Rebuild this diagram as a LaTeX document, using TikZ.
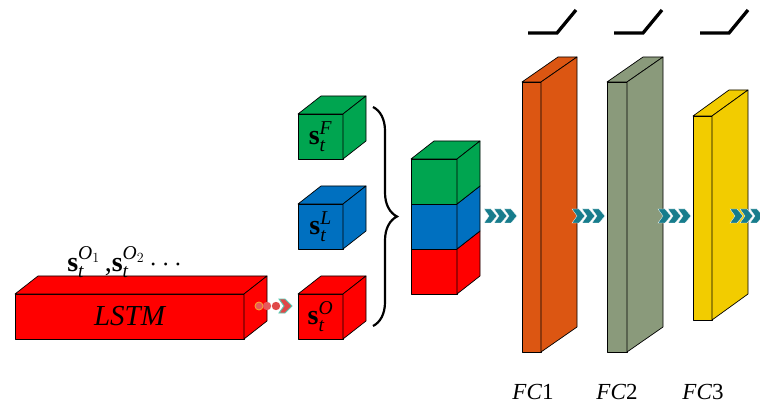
\RequirePackage{fix-cm}
\documentclass[tikz,border=0pt]{standalone}
\usepackage{amsmath}
\usepackage{fontspec}
\setmainfont{Liberation Serif}
\usetikzlibrary{decorations.pathreplacing,calc}

\definecolor{boxred}{HTML}{FF0000}
\definecolor{boxgreen}{HTML}{00A550}
\definecolor{boxblue}{HTML}{0070C0}
\definecolor{fcorange}{HTML}{DC5612}
\definecolor{fcgrey}{HTML}{8A9A7B}
\definecolor{fcyellow}{HTML}{F2CC00}
\definecolor{arrowteal}{HTML}{167C8C}
\definecolor{dotred}{HTML}{E8585A}
\definecolor{dotring}{HTML}{F5A030}
\definecolor{chevred}{HTML}{E04848}
\definecolor{chevring}{HTML}{5CC8B0}

\tikzset{
  face/.style={draw=black, line width=0.7pt, line join=round},
  frontface/.style={face, rectangle, inner sep=0pt, outer sep=0pt, anchor=north west},
  vecfont/.style={font=\fontsize{28}{32}\selectfont},
  fclabel/.style={font=\fontsize{23}{27}\selectfont, inner sep=0pt},
  relu/.style={line width=3.3pt, line join=miter, line cap=butt},
  bigbrace/.style={decorate, decoration={brace, amplitude=24pt}, line width=2.2pt},
}

% top and side faces of a box whose front face is node #1
\newcommand\boxdepth[4]{%
  \draw[face, fill=#4] (#1.north west) -- ++(#2,#3) -- ($(#1.north east)+(#2,#3)$) -- (#1.north east) -- cycle;
  \draw[face, fill=#4] (#1.north east) -- ++(#2,#3) -- ($(#1.south east)+(#2,#3)$) -- (#1.south east) -- cycle;
}
% side face only
\newcommand\boxside[4]{%
  \draw[face, fill=#4] (#1.north east) -- ++(#2,#3) -- ($(#1.south east)+(#2,#3)$) -- (#1.south east) -- cycle;
}
% three teal chevrons starting at coordinate #1
\newcommand\chevrons[1]{%
  \foreach \k in {0,10,20}
    \filldraw[fill=arrowteal, draw=white, line width=0.3pt]
      ($(#1)+(\k,0)$) ++(0,-7) -- ++(7,0) -- ++(6,7) -- ++(-6,7) -- ++(-7,0) -- ++(5,-7) -- cycle;
}

\begin{document}
\begin{tikzpicture}[x=1pt, y=-1pt]
\useasboundingbox (0,0) rectangle (760,403);
\fill[white] (0,0) rectangle (760,403);

% LSTM block
\node[frontface, fill=boxred, minimum width=229pt, minimum height=45pt,
      font=\fontsize{29}{33}\selectfont\itshape] (lstm) at (15,294) {LSTM};
\boxdepth{lstm}{23}{-18}{boxred}
\node[vecfont] (seq) at (127,262)
  {$\textbf{s}_{\textit{t}}^{\textit{O}_{1}}$\,,$\textbf{s}_{\textit{t}}^{\textit{O}_{2}}\cdots$};

% feature cubes
\node[frontface, fill=boxgreen, minimum width=45pt, minimum height=45pt, vecfont] (sF) at (298,114)
  {$\textbf{s}_{\textit{t}}^{\textit{F}}$};
\boxdepth{sF}{23}{-18}{boxgreen}
\node[frontface, fill=boxblue, minimum width=45pt, minimum height=45pt, vecfont] (sL) at (298,204)
  {$\textbf{s}_{\textit{t}}^{\textit{L}}$};
\boxdepth{sL}{23}{-18}{boxblue}
\node[frontface, fill=boxred, minimum width=45pt, minimum height=45pt, vecfont] (sO) at (298,294)
  {$\textbf{s}_{\textit{t}}^{\textit{O}}$};
\boxdepth{sO}{23}{-18}{boxred}

% LSTM output into the red cube
\coordinate (dots) at (259,306);
\filldraw[fill=dotred, draw=dotring, line width=0.9pt] (dots) circle (4pt);
\fill[dotred] ($(dots)+(8,0)$) circle (4.2pt);
\fill[chevred] ($(dots)+(17,0)$) circle (4.2pt);
\filldraw[fill=chevred, draw=chevring, line width=0.9pt]
  ($(dots)+(20,-7)$) -- ++(6,0) -- ++(7,7) -- ++(-7,7) -- ++(-6,0) -- ++(5,-7) -- cycle;

% concatenation brace
\coordinate (bt) at (373,107);
\coordinate (bb) at (373,326);
\draw[bigbrace] (bt) -- (bb);

% concatenated stack
\node[frontface, fill=boxred, minimum width=46pt, minimum height=45pt] (cR) at (411,249) {};
\node[frontface, fill=boxblue, minimum width=46pt, minimum height=45pt] (cB) at (411,204) {};
\node[frontface, fill=boxgreen, minimum width=46pt, minimum height=45pt] (cG) at (411,159) {};
\boxside{cR}{23}{-18}{boxred}
\boxside{cB}{23}{-18}{boxblue}
\boxdepth{cG}{23}{-18}{boxgreen}

% fully connected layers
\node[frontface, fill=fcorange, minimum width=19pt, minimum height=270pt] (fc1) at (522,82) {};
\boxdepth{fc1}{36}{-25}{fcorange}
\node[frontface, fill=fcgrey, minimum width=20pt, minimum height=270pt] (fc2) at (607,82) {};
\boxdepth{fc2}{36}{-25}{fcgrey}
\node[frontface, fill=fcyellow, minimum width=19pt, minimum height=204pt] (fc3) at (693,116) {};
\boxdepth{fc3}{36}{-26}{fcyellow}

% flow arrows
\coordinate (a1) at (484,216);
\coordinate (a2) at (572,216);
\coordinate (a3) at (658,216);
\coordinate (a4) at (730,216);
\chevrons{a1}
\chevrons{a2}
\chevrons{a3}
\chevrons{a4}

% ReLU activations
\draw[relu] (528,33) -- (557,33) -- (576,10);
\draw[relu] (614,33) -- (643,33) -- (662,10);
\draw[relu] (700,33) -- (729,33) -- (748,10);

% layer labels
\node[fclabel] (l1) at (533,392) {\textit{FC}1};
\node[fclabel] (l2) at (617,392) {\textit{FC}2};
\node[fclabel] (l3) at (703,392) {\textit{FC}3};
\end{tikzpicture}
\end{document}
